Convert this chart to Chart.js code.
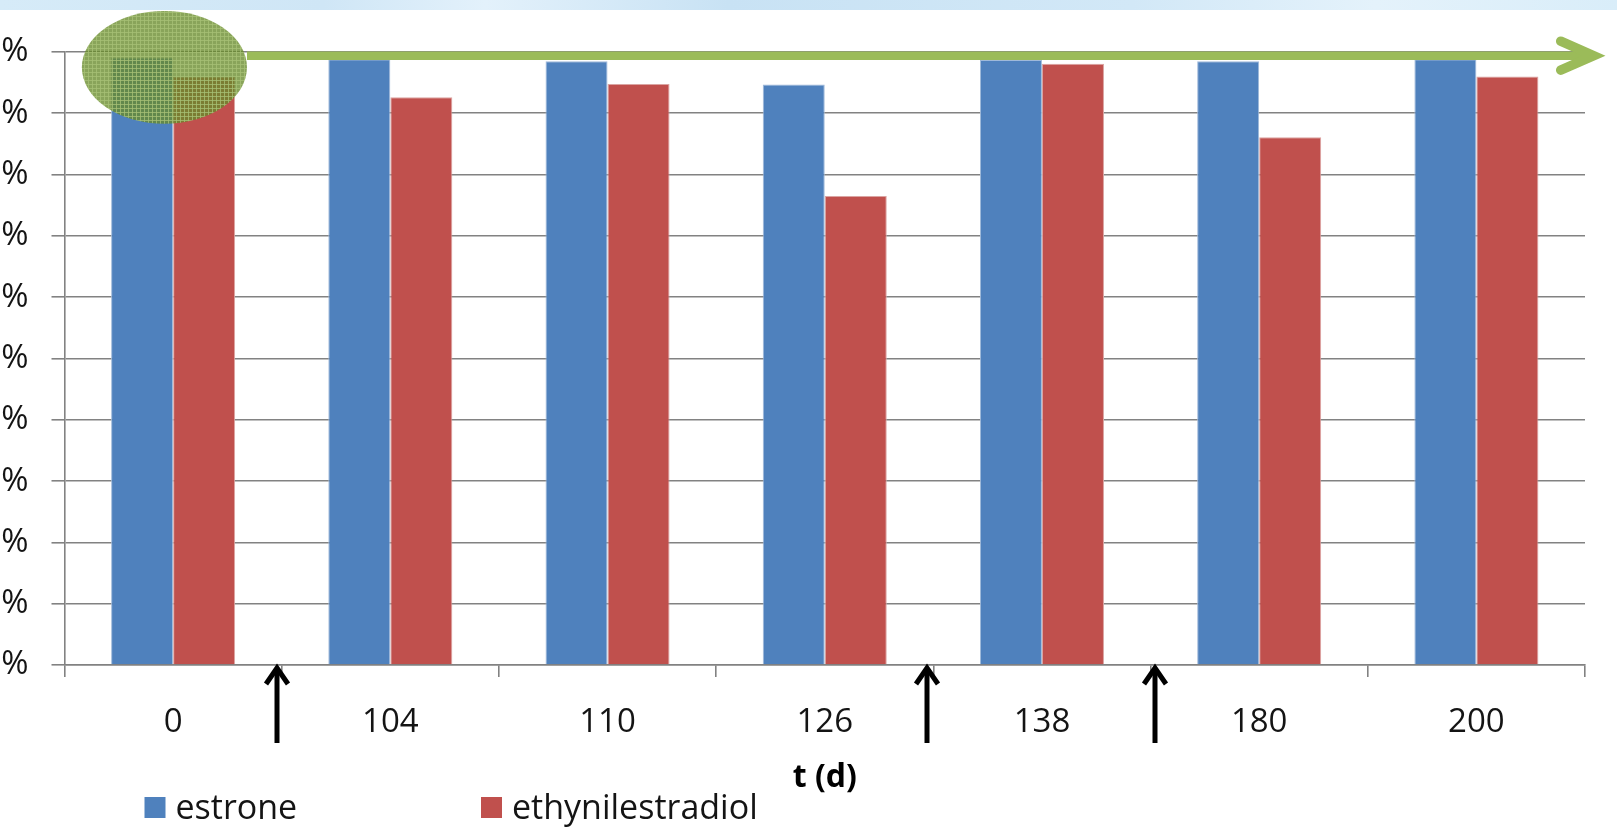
<!DOCTYPE html>
<html>
<head>
<meta charset="utf-8">
<title>Removal efficiency over time</title>
<script src="https://cdn.jsdelivr.net/npm/chart.js@4/dist/chart.umd.min.js"></script>
<style>
  html, body { margin: 0; padding: 0; background: #fff; overflow: hidden; width: 1617px; height: 828px; }
  #band {
    position: absolute; left: 0; top: 0; width: 1617px; height: 10px;
    background: linear-gradient(90deg, #d6ebf8 0%, #cfe6f6 20%, #e3f1fb 30%, #c8e2f4 45%, #d2e8f7 70%, #e4f2fb 85%, #d9edf9 100%);
  }
  /* the canvas starts left of the page so the value labels run off the edge */
  #wrap { position: absolute; left: -100px; top: 0; width: 1717px; height: 828px; }
</style>
</head>
<body>
<div id="wrap"><canvas id="chart" width="1717" height="828"></canvas></div>
<div id="band"></div>
<script>
// sampling days (t, d)
const days = ['0', '104', '110', '126', '138', '180', '200'];
// removal, %
const estrone = [99.1, 98.8, 98.5, 94.7, 98.7, 98.5, 98.8];
const ethynilestradiol = [96.0, 92.6, 94.8, 76.5, 98.1, 86.1, 96.0];
// value axis
const yMin = 0;
const yMax = 100;
const yStep = 10;
// operating changes, placed between sampling days (category index units)
const changePoints = [0.48, 3.47, 4.52];
// steady removal level marked by the green arrow (%), and its extent in category units
const steadyLevel = 99.4;
const steadyFrom = 0.34;
const steadyTo = 6.54;
// highlighted start-up point: centre (category index, %) and half-extent
const startCentre = [-0.04, 97.5];
const startHalfSize = [0.38, 9.2];

const FONT = "'Open Sans', 'Liberation Sans', sans-serif";
const GRID = '#828282';
const BLUE = '#4F81BD';
const RED = '#C0504D';
const GREEN = '#9BBB59';
const TEXT = '#141414';

function makeHatch(ctx) {
  const t = document.createElement('canvas');
  t.width = 4; t.height = 4;
  const g = t.getContext('2d');
  g.fillStyle = 'rgba(104,138,44,0.78)';
  g.fillRect(0, 0, 4, 4);
  g.fillStyle = 'rgba(166,192,118,0.78)';
  g.fillRect(0, 0, 4, 1);
  g.fillRect(0, 0, 1, 4);
  return ctx.createPattern(t, 'repeat');
}

const overlays = {
  id: 'overlays',
  afterDatasetsDraw(chart) {
    const { ctx, scales: { x, y } } = chart;
    ctx.save();

    // start-up highlight
    const cx = x.getPixelForValue(startCentre[0]);
    const cy = y.getPixelForValue(startCentre[1]);
    const rx = x.getPixelForValue(startCentre[0] + startHalfSize[0]) - cx;
    const ry = cy - y.getPixelForValue(startCentre[1] + startHalfSize[1]);
    ctx.beginPath();
    ctx.ellipse(cx, cy, rx, ry, 0, 0, Math.PI * 2);
    ctx.fillStyle = makeHatch(ctx);
    ctx.fill();

    // steady-state arrow
    const ly = y.getPixelForValue(steadyLevel);
    const x0 = x.getPixelForValue(steadyFrom);
    const x1 = x.getPixelForValue(steadyTo);
    ctx.strokeStyle = GREEN;
    ctx.lineWidth = 8.5;
    ctx.lineCap = 'butt';
    ctx.beginPath();
    ctx.moveTo(x0, ly);
    ctx.lineTo(x1 - 4, ly);
    ctx.stroke();
    ctx.lineWidth = 9.5;
    ctx.lineCap = 'round';
    ctx.lineJoin = 'miter';
    ctx.beginPath();
    ctx.moveTo(x1 - 33, ly - 14.5);
    ctx.lineTo(x1, ly);
    ctx.lineTo(x1 - 33, ly + 14.5);
    ctx.stroke();
    ctx.restore();
  },
  afterDraw(chart) {
    const { ctx, scales: { x, y } } = chart;
    ctx.save();
    // operating-change arrows under the time axis
    const base = y.getPixelForValue(yMin);
    ctx.strokeStyle = '#000';
    ctx.lineWidth = 5;
    ctx.lineCap = 'butt';
    ctx.lineJoin = 'miter';
    changePoints.forEach(v => {
      const px = Math.round(x.getPixelForValue(v));
      ctx.beginPath();
      ctx.moveTo(px, base + 4);
      ctx.lineTo(px, base + 78);
      ctx.stroke();
      ctx.beginPath();
      ctx.moveTo(px - 11, base + 19);
      ctx.lineTo(px, base + 3);
      ctx.lineTo(px + 11, base + 19);
      ctx.stroke();
    });

    // legend
    const offsets = [80, 416.5];
    ctx.font = '34px ' + FONT;
    ctx.textBaseline = 'alphabetic';
    ctx.textAlign = 'left';
    chart.data.datasets.forEach((ds, i) => {
      const lx = chart.chartArea.left + offsets[i];
      ctx.fillStyle = ds.backgroundColor;
      ctx.fillRect(lx, 797, 21, 21);
      ctx.fillStyle = TEXT;
      ctx.fillText(ds.label, lx + 31, 819);
    });
    ctx.restore();
  }
};

new Chart(document.getElementById('chart'), {
  type: 'bar',
  data: {
    labels: days,
    datasets: [
      { label: 'estrone', data: estrone, backgroundColor: BLUE, borderColor: '#9fb9da', borderWidth: 1,
        categoryPercentage: 0.571, barPercentage: 1.0 },
      { label: 'ethynilestradiol', data: ethynilestradiol, backgroundColor: RED, borderColor: '#dba4a2', borderWidth: 1,
        categoryPercentage: 0.571, barPercentage: 1.0 }
    ]
  },
  options: {
    responsive: false,
    animation: false,
    devicePixelRatio: 1,
    layout: { padding: { top: 52, right: 32, bottom: 31, left: 0 } },
    plugins: { legend: { display: false }, tooltip: { enabled: false } },
    scales: {
      x: {
        grid: { drawOnChartArea: false, drawTicks: true, tickLength: 12, color: GRID, lineWidth: 1.6, offset: true },
        border: { color: GRID, width: 1.6 },
        ticks: { font: { family: FONT, size: 33 }, color: TEXT, padding: 26 },
        title: { display: true, text: 't (d)', color: '#000',
                 font: { family: FONT, size: 32, weight: 'bold' }, padding: { top: 0, bottom: 0 } },
        afterFit(s) { s.height = 132; }
      },
      y: {
        min: yMin, max: yMax,
        ticks: { stepSize: yStep, callback: v => v + '%', font: { family: FONT, size: 33 }, color: TEXT, padding: 23 },
        grid: { color: GRID, lineWidth: 1.6, tickLength: 13 },
        border: { color: GRID, width: 1.6 },
        afterFit(s) { s.width = 164.5; }
      }
    }
  },
  plugins: [overlays]
});
</script>
</body>
</html>
